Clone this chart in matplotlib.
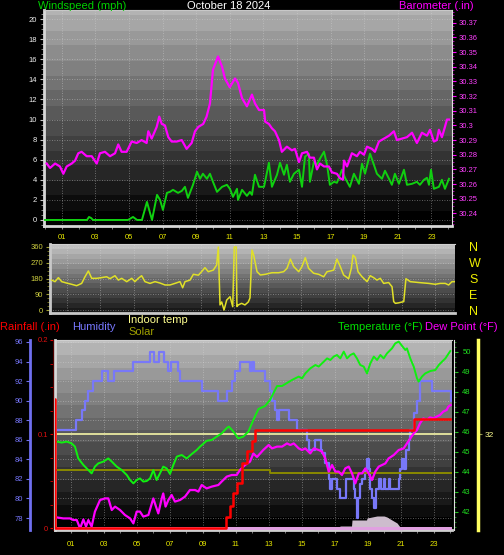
import matplotlib
matplotlib.use("Agg")
import matplotlib.pyplot as plt
import numpy as np
from matplotlib.ticker import MultipleLocator

plt.rcParams['font.family'] = ['Liberation Sans', 'DejaVu Sans']

# ---------------- data (hours after midnight) ----------------
# top panel: wind speed (mph) and barometer (in)
wind_hours = [0.0, 2.5, 2.62, 2.74, 2.86, 4.94, 5.24, 5.48, 5.77, 6.07, 6.37, 6.67, 6.85, 7.02, 7.26,
              7.44, 7.62, 7.92, 8.15, 8.33, 8.51, 8.81, 9.05, 9.23, 9.4, 9.64, 9.82, 10.0, 10.24,
              10.54, 10.83, 11.01, 11.19, 11.43, 11.49, 11.73, 12.02, 12.2, 12.32, 12.5, 12.74,
              13.04, 13.33, 13.51, 13.81, 13.99, 14.23, 14.4, 14.58, 14.82, 15.12, 15.3, 15.48,
              15.71, 15.77, 16.01, 16.19, 16.37, 16.61, 16.79, 16.96, 17.2, 17.38, 17.68, 17.86,
              18.15, 18.39, 18.69, 18.87, 19.05, 19.35, 19.58, 19.76, 20.06, 20.24, 20.48, 20.65,
              20.83, 21.07, 21.37, 21.55, 21.85, 22.14, 22.32, 22.56, 22.74, 22.86, 22.98, 23.15,
              23.45, 23.63, 23.81, 24.05]
wind_mph = [0, 0, 0.3, 0.2, 0, 0, 0.3, 0, 0, 1.8, 0, 2.5, 2.0, 1.0, 2.7,
            2.8, 3.0, 2.7, 2.9, 3.3, 2.2, 3.5, 4.8, 4.1, 4.6, 4.1, 4.6, 3.8, 2.8,
            3.3, 3.5, 3.1, 2.3, 3.1, 2.0, 3.0, 2.4, 2.8, 2.5, 4.5, 3.3,
            3.3, 5.7, 3.3, 4.5, 5.7, 4.5, 5.5, 3.8, 4.6, 5.0, 3.3, 6.3,
            6.6, 3.8, 5.8, 5.5, 6.1, 6.8, 5.5, 3.5, 3.8, 3.7, 5.0, 4.2,
            3.3, 4.6, 3.6, 5.6, 4.6, 6.6, 5.5, 4.6, 4.1, 4.9, 4.1, 3.5,
            4.6, 3.6, 5.0, 3.5, 3.6, 3.8, 3.5, 4.0, 4.2, 3.5, 5.0, 3.1,
            3.3, 4.0, 3.1, 4.1]

baro_hours = [0.1, 0.3, 0.6, 0.89, 1.09, 1.29, 1.59, 1.79, 1.98, 2.18, 2.48, 2.78, 3.08, 3.27,
              3.57, 3.87, 4.17, 4.36, 4.56, 4.86, 5.16, 5.46, 5.75, 6.05, 6.15, 6.35, 6.65, 6.8,
              6.95, 7.14, 7.34, 7.54, 7.84, 8.14, 8.43, 8.73, 8.93, 9.13, 9.42, 9.62, 9.82, 10.0,
              10.3, 10.54, 10.71, 11.0, 11.31, 11.49, 11.73, 12.02, 12.32, 12.5, 12.74, 13.04,
              13.11, 13.33, 13.51, 13.69, 13.93, 14.1, 14.4, 14.7, 14.88, 15.12, 15.3, 15.6,
              15.77, 16.01, 16.19, 16.37, 16.61, 16.9, 17.08, 17.38, 17.56, 17.74, 17.8, 17.98,
              18.27, 18.57, 18.75, 18.99, 19.17, 19.46, 19.64, 19.88, 20.18, 20.48, 20.77, 20.95,
              21.25, 21.55, 21.85, 22.14, 22.44, 22.74, 22.92, 23.15, 23.33, 23.45, 23.63, 23.81,
              23.93, 24.05]
baro_inhg = [30.274, 30.271, 30.274, 30.272, 30.267, 30.272, 30.274, 30.276, 30.281, 30.282, 30.279,
             30.279, 30.274, 30.281, 30.282, 30.279, 30.281, 30.287, 30.282, 30.282, 30.289, 30.288,
             30.290, 30.288, 30.296, 30.291, 30.299, 30.306, 30.301, 30.300, 30.292, 30.289, 30.289,
             30.290, 30.284, 30.288, 30.296, 30.299, 30.301, 30.306, 30.315, 30.338, 30.347, 30.340,
             30.332, 30.326, 30.332, 30.329, 30.3185, 30.313, 30.321, 30.315, 30.3105, 30.3105,
             30.3025, 30.301, 30.298, 30.296, 30.290, 30.282, 30.2855, 30.283, 30.284, 30.275,
             30.281, 30.282, 30.278, 30.278, 30.270, 30.274, 30.272, 30.272, 30.268, 30.267,
             30.264, 30.263, 30.276, 30.272, 30.281, 30.279, 30.282, 30.280, 30.2855, 30.284,
             30.282, 30.289, 30.291, 30.293, 30.296, 30.290, 30.291, 30.292, 30.295, 30.288,
             30.295, 30.293, 30.297, 30.289, 30.290, 30.297, 30.292, 30.299, 30.304, 30.304]

# middle panel: wind direction (degrees)
dir_hours = [0.1, 0.3, 0.5, 0.7, 0.99, 1.29, 1.59, 1.89, 2.09, 2.29, 2.49, 2.79, 3.08, 3.38, 3.58,
             3.88, 4.08, 4.28, 4.58, 4.88, 5.07, 5.27, 5.47, 5.67, 5.97, 6.27, 6.57, 6.87, 7.16,
             7.46, 7.76, 7.92, 8.06, 8.36, 8.56, 8.86, 9.05, 9.25, 9.45, 9.75, 9.95, 10.05, 10.15,
             10.25, 10.39, 10.55, 10.75, 10.91, 11.0, 11.12, 11.16, 11.24, 11.44, 11.64, 11.84,
             11.94, 12.06, 12.16, 12.36, 12.56, 12.86, 13.25, 13.65, 13.95, 14.15, 14.35, 14.55,
             14.85, 15.04, 15.24, 15.44, 15.74, 16.04, 16.34, 16.54, 16.74, 16.94, 17.13, 17.33,
             17.53, 17.83, 17.99, 18.09, 18.23, 18.39, 18.63, 18.93, 19.12, 19.32, 19.52, 19.72,
             19.92, 20.22, 20.42, 20.52, 20.62, 20.82, 21.12, 21.25, 21.51, 22.01, 22.61, 23.0,
             23.3, 23.6, 23.8, 24.0, 24.14]
dir_deg = [171, 162, 185, 162, 154, 147, 139, 152, 190, 223, 181, 181, 185, 190, 179,
           196, 171, 181, 162, 181, 162, 181, 196, 162, 152, 162, 154, 143, 143,
           152, 162, 127, 162, 171, 204, 199, 219, 242, 219, 228, 257, 360, 29,
           46, 0, 57, 76, 19, 360, 360, 20, 29, 38, 29, 46,
           69, 343, 314, 219, 200, 204, 213, 213, 219, 238, 291, 248,
           219, 248, 299, 238, 210, 204, 190, 219, 223, 228, 291, 248,
           200, 179, 238, 314, 300, 219, 190, 162, 196, 185, 171, 181,
           152, 157, 133, 48, 38, 41, 48, 179, 162, 157, 152, 147,
           152, 152, 143, 162, 162]

# bottom panel
hum_hours = [0.06, 1.33, 1.68, 1.88, 2.08, 2.38, 2.89, 3.27, 3.64, 4.81, 5.82, 6.06, 6.38, 6.67,
             6.89, 7.07, 7.53, 7.64, 8.95, 9.96, 10.5, 10.77, 10.97, 11.27, 11.88, 12.0, 12.12,
             12.79, 13.11, 13.21, 13.41, 13.52, 13.64, 14.22, 14.73, 15.33, 15.43, 15.84, 16.16,
             16.24, 16.44, 16.65, 16.75, 16.85, 17.15, 17.35, 17.7, 18.16, 18.26, 18.36, 18.45,
             18.55, 18.67, 18.87, 18.97, 19.09, 19.17, 19.27, 19.38, 19.52, 19.68, 19.82, 19.98,
             20.08, 20.28, 20.38, 20.89, 20.99, 21.09, 21.21, 21.33, 21.5, 21.59, 21.82, 21.98,
             22.18, 22.91, 24.0, 24.06]
hum_pct = [87, 88, 89, 90, 91, 92, 93, 92, 93, 94, 95, 94, 95, 94,
           93, 94, 93, 92, 91, 90, 91, 92, 93, 94, 93, 94, 93,
           92, 91, 90, 89, 88, 89, 88, 87, 86, 85, 86, 85,
           84.7, 83.6, 82, 81, 82, 81, 80, 82, 81, 80, 78, 80,
           81.5, 82, 83, 84, 83, 81, 80, 79, 81, 82, 81, 82,
           81, 82, 81, 82, 83, 84, 83, 85, 86, 87, 88.7, 90,
           92, 91, 91, 90]

temp_hours = [0.16, 0.47, 0.77, 1.07, 1.27, 1.47, 1.78, 2.08, 2.28, 2.48, 2.68, 2.99, 3.29, 3.5,
              3.8, 4.1, 4.41, 4.61, 4.81, 5.01, 5.21, 5.41, 5.62, 5.82, 6.02, 6.22, 6.42, 6.62,
              6.83, 7.03, 7.23, 7.44, 7.74, 8.04, 8.35, 8.65, 8.85, 9.25, 9.56, 9.86, 10.16,
              10.47, 10.6, 10.87, 11.17, 11.47, 11.78, 12.08, 12.39, 12.79, 13.09, 13.29, 13.52,
              13.82, 14.12, 14.42, 14.83, 15.03, 15.23, 15.53, 15.84, 16.04, 16.35, 16.55, 16.75,
              16.95, 17.15, 17.35, 17.56, 17.76, 17.96, 18.16, 18.36, 18.56, 18.77, 18.97, 19.17,
              19.38, 19.58, 19.78, 19.98, 20.18, 20.48, 20.68, 20.89, 21.05, 21.29, 21.39, 21.59,
              21.8, 22.0, 22.1, 22.3, 22.5, 22.81, 23.11, 23.32, 23.52, 23.72, 23.92, 24.02]
temp_f = [45.52, 45.47, 45.52, 45.43, 45.27, 44.68, 44.35, 44.1, 43.93, 44.27, 44.43, 44.52, 44.68, 44.52,
          44.27, 44.1, 43.85, 43.6, 43.43, 43.6, 43.68, 43.52, 43.55, 43.68, 44.1, 43.6, 43.93, 44.27,
          44.18, 43.9, 44.35, 44.77, 44.85, 44.68, 44.9, 45.1, 45.27, 45.56, 45.6, 45.77, 45.93,
          46.2, 46.27, 46.02, 45.68, 45.77, 46.02, 46.6, 47.15, 47.3, 47.6, 47.93, 48.3,
          48.3, 48.45, 48.6, 48.77, 48.68, 48.93, 49.18, 49.35, 49.27, 49.52, 49.68, 49.6,
          49.77, 49.85, 49.68, 50.02, 49.68, 49.85, 49.93, 49.68, 49.35, 49.27, 48.93, 49.43,
          49.77, 49.6, 49.85, 49.68, 49.93, 50.18, 50.43, 50.52, 50.35, 50.1, 50.18, 49.68,
          49.27, 48.68, 48.52, 48.77, 48.93, 49.05, 49.1, 49.35, 49.52, 49.68, 49.93, 50.05]

dew_hours = [0.16, 0.56, 0.97, 1.17, 1.38, 1.58, 1.78, 1.94, 2.08, 2.28, 2.48, 2.79, 3.09, 3.29,
             3.5, 3.7, 4.0, 4.3, 4.61, 4.81, 5.01, 5.21, 5.41, 5.72, 6.02, 6.18, 6.32, 6.53, 6.62,
             6.76, 6.93, 7.13, 7.33, 7.64, 7.94, 8.24, 8.55, 8.75, 8.95, 9.25, 9.56, 9.96, 10.16,
             10.47, 10.77, 11.07, 11.27, 11.58, 11.88, 12.08, 12.3, 12.68, 13.01, 13.21, 13.52,
             13.82, 14.12, 14.32, 14.53, 14.83, 15.03, 15.23, 15.53, 15.74, 16.04, 16.24, 16.44,
             16.65, 16.85, 17.05, 17.25, 17.45, 17.65, 17.86, 18.06, 18.26, 18.47, 18.67, 18.87,
             19.07, 19.27, 19.47, 19.68, 19.88, 20.08, 20.28, 20.59, 20.89, 21.19, 21.39, 21.59,
             21.8, 22.0, 22.18, 22.38, 22.59, 22.79, 22.99, 23.19, 23.39, 23.59, 23.8, 23.9, 24.04]
dew_f = [41.73, 41.68, 41.68, 41.6, 41.6, 41.18, 41.63, 41.27, 41.6, 41.27, 42.02, 42.6, 42.68, 42.68,
         42.1, 42.27, 42.1, 41.85, 41.68, 41.43, 42.02, 42.02, 41.77, 41.85, 42.68, 42.27, 41.93, 42.68, 42.93,
         42.27, 42.6, 42.85, 42.52, 42.6, 42.77, 43.1, 43.1, 43.02, 43.35, 43.18, 43.27, 43.35, 43.52,
         43.77, 43.85, 43.85, 44.1, 44.35, 44.52, 44.93, 44.75, 45.1, 45.35, 45.18, 45.27,
         45.27, 45.43, 45.35, 45.43, 45.18, 45.1, 45.18, 44.93, 45.18, 45.1, 45.02, 44.68,
         44.02, 44.35, 44.02, 44.02, 43.85, 44.18, 44.27, 43.93, 43.43, 43.93, 43.93, 44.18,
         43.93, 43.6, 44.02, 44.27, 44.35, 44.43, 44.68, 44.85, 45.1, 45.18, 45.43, 45.68,
         45.93, 46.1, 46.43, 46.68, 46.6, 46.73, 46.68, 46.77, 46.85, 47.02, 47.1, 47.27, 47.35]

rain_hours = [0.0, 0.08, 10.42, 10.67, 10.85, 11.09, 11.39, 11.7, 12.0, 12.18, 21.8, 24.0]
rain_in = [0.137, 0.0, 0.012, 0.024, 0.037, 0.048, 0.069, 0.082, 0.093, 0.104, 0.116, 0.116]

indoor_hours = [0.06, 24.12]
indoor_f = [32, 32]

solar_hours = [0.06, 13.1, 24.12]
solar_vals = [60, 57, 57]

rad_hours = [0.0, 15.75, 15.8, 16.05, 16.1, 17.3, 17.33, 18.03, 18.06, 18.94, 18.97, 19.27, 19.58,
             20.0, 20.18, 20.48, 20.79, 20.97, 21.15, 24.1]
rad_vals = [0, 0, 3, 3, 0, 0, 4, 4, 10, 10, 12, 13, 14, 14, 13, 10, 7, 3, 0, 0]
uv_hours = [0.06, 24.12]
uv_vals = [3, 3]

hour_ticks = list(range(1, 24, 2))
hour_labels = ["%02d" % h for h in hour_ticks]

# ---------------- figure ----------------
W, H = 504, 555
PT = 0.72  # pixels -> points at 100 dpi
fig = plt.figure(figsize=(W / 100, H / 100), dpi=100, facecolor="black")


def panel(left, top, right, bottom):
    # pixel box -> figure fraction
    return fig.add_axes([left / W, 1 - bottom / H, (right - left) / W, (bottom - top) / H])


def shade(ax, top, bottom, steps=20):
    g = np.linspace(top, bottom, 240)
    g = np.floor(g * steps) / steps
    ax.imshow(g[:, None], cmap="gray", vmin=0, vmax=1, aspect="auto",
              extent=[0, 1, 0, 1], transform=ax.transAxes, zorder=0,
              interpolation="nearest")


def only_spine(ax, keep):
    for name, sp in ax.spines.items():
        sp.set_visible(name in keep)


GRID = dict(color="#d8d8d8", ls=(0, (1, 2)), lw=0.6, alpha=0.55)

# ---- top: windspeed + barometer ----
ax1 = panel(44, 10, 452, 226)
ax1.set_facecolor("black")
shade(ax1, 0.72, 0.0)
ax1.plot(wind_hours, wind_mph, color="#10d010", lw=1.4, zorder=3)
ax1.set_xlim(-0.06, 24.23)
ax1.set_ylim(-0.6, 20.9)
ax1.set_xticks(hour_ticks)
ax1.set_xticklabels(hour_labels)
ax1.xaxis.set_minor_locator(MultipleLocator(1))
ax1.set_yticks(range(0, 21, 2))
ax1.yaxis.set_minor_locator(MultipleLocator(0.5))
ax1.tick_params(axis="x", which="both", colors="#909090", labelcolor="#e8e800",
                labelsize=5.5, length=2, pad=4)
ax1.tick_params(axis="y", which="major", colors="#c8c8c8", labelcolor="#f0f0f0",
                labelsize=5.5, length=3, pad=2)
ax1.tick_params(axis="y", which="minor", colors="#a0a0a0", length=2)
ax1.grid(True, **GRID)
only_spine(ax1, ["left", "bottom", "top"])
for s in ["left", "bottom"]:
    ax1.spines[s].set_color("#d8d8d8")
    ax1.spines[s].set_linewidth(2)
ax1.spines["top"].set_color("#c8c8c8")

ax1b = ax1.twinx()
ax1b.plot(baro_hours, baro_inhg, color="#ff00ff", lw=1.6, zorder=3)
ax1b.set_ylim(30.2314, 30.3787)
bt = np.round(np.arange(30.24, 30.371, 0.01), 2)
ax1b.set_yticks(bt)
ax1b.set_yticklabels([("%.2f" % v).rstrip("0") for v in bt])
ax1b.yaxis.set_minor_locator(MultipleLocator(0.0025))
ax1b.tick_params(axis="y", which="major", colors="#ff00ff", labelcolor="#ff40ff",
                 labelsize=5.5, length=3, pad=2)
ax1b.tick_params(axis="y", which="minor", colors="#c000c0", length=1.5)
only_spine(ax1b, ["right"])
ax1b.spines["right"].set_color("#e0e0e0")

fig.text(38 / W, 1 - 6 / H, "Windspeed (mph)", color="#00d000", fontsize=8, va="center")
fig.text(187 / W, 1 - 6 / H, "October 18 2024", color="white", fontsize=8, va="center")
fig.text(399 / W, 1 - 6 / H, "Barometer (.in)", color="#ff00ff", fontsize=8, va="center")

# ---- middle: wind direction ----
ax2 = panel(50, 244, 455, 313)
shade(ax2, 0.80, 0.10)
ax2.plot(dir_hours, dir_deg, color="#e0e028", lw=1.1, zorder=3)
ax2.set_xlim(0, 24.18)
ax2.set_ylim(-17.1, 377.1)
ax2.set_yticks(range(0, 361, 90))
ax2.yaxis.set_minor_locator(MultipleLocator(22.5))
ax2.set_xticks(hour_ticks)
ax2.tick_params(axis="x", bottom=False, labelbottom=False)
ax2.tick_params(axis="y", which="major", colors="#a0a030", labelcolor="#d0d040",
                labelsize=5.5, length=3, pad=2)
ax2.tick_params(axis="y", which="minor", colors="#808020", length=2)
ax2.grid(True, **GRID)
only_spine(ax2, ["left", "bottom", "top"])
for s in ["left", "bottom"]:
    ax2.spines[s].set_color("#c8c8c8")
    ax2.spines[s].set_linewidth(2)
ax2.spines["top"].set_color("#d0d0d0")

ax2c = ax2.twinx()
ax2c.set_ylim(ax2.get_ylim())
ax2c.set_yticks(range(0, 361, 90))
ax2c.set_yticklabels(["N", "E", "S", "W", "N"])
ax2c.tick_params(axis="y", length=0, pad=14 * PT, labelsize=9, labelcolor="#f0f000")
only_spine(ax2c, [])

# ---- bottom: rain, humidity, temperature, dew point ----
ax3 = panel(55, 340, 452, 530)
shade(ax3, 0.76, 0.0)
ax3.plot(hum_hours, hum_pct, color="#7878f8", lw=1.6, drawstyle="steps-post", zorder=3)
ax3.set_xlim(0.06, 24.12)
ax3.set_ylim(76.78, 96.2)
ax3.set_yticks(range(78, 97, 2))
ax3.set_xticks(hour_ticks)
ax3.set_xticklabels(hour_labels)
ax3.xaxis.set_minor_locator(MultipleLocator(1))
ax3.tick_params(axis="x", which="both", colors="#909090", labelcolor="#e8e800",
                labelsize=5.5, length=2, pad=6)
ax3.tick_params(axis="y", colors="#7070f0", labelcolor="#7878ff", labelsize=5.5, length=3, pad=2)
ax3.grid(True, **GRID)
only_spine(ax3, ["left", "bottom", "top"])
ax3.spines["left"].set_position(("outward", 25 * PT))
ax3.spines["left"].set_color("#7070f0")
ax3.spines["left"].set_linewidth(2)
ax3.spines["bottom"].set_color("#d0d0d0")
ax3.spines["bottom"].set_linewidth(2)
ax3.spines["top"].set_color("#d0d0d0")
ax3.axvline(ax3.get_xlim()[0], color="#d8d8d8", lw=2, zorder=4, clip_on=False)

ax3s = ax3.twinx()
ax3s.set_ylim(0, 190)
ax3s.fill_between(rad_hours, 0, rad_vals, color="#cdbccd", lw=0, zorder=2)
ax3s.fill_between(uv_hours, 0, uv_vals, color="#e0a0e0", lw=0, zorder=2)
ax3s.plot(solar_hours, solar_vals, color="#8a8a00", lw=1.4, drawstyle="steps-post", zorder=3)
ax3s.set_yticks([])
only_spine(ax3s, [])

ax3i = ax3.twinx()
ax3i.plot(indoor_hours, indoor_f, color="#e8e8a0", lw=1.3, zorder=3)
ax3i.set_ylim(27.2, 36.7)
ax3i.set_yticks([32])
ax3i.tick_params(axis="y", colors="#909050", labelcolor="#ffff90", labelsize=6, length=3, pad=2)
only_spine(ax3i, ["right"])
ax3i.spines["right"].set_position(("outward", 26 * PT))
ax3i.spines["right"].set_color("#ffff60")
ax3i.spines["right"].set_linewidth(2.5)

ax3t = ax3.twinx()
ax3t.plot(temp_hours, temp_f, color="#10f010", lw=1.4, zorder=3)
ax3t.plot(dew_hours, dew_f, color="#ff00ff", lw=1.6, zorder=3)
ax3t.set_ylim(41.1, 50.6)
ax3t.set_yticks(range(42, 51))
ax3t.yaxis.set_minor_locator(MultipleLocator(0.25))
ax3t.tick_params(axis="y", which="major", colors="#20c020", labelcolor="#20e020",
                 labelsize=5.5, length=3, pad=3)
ax3t.tick_params(axis="y", which="minor", colors="#20a020", length=1.5)
only_spine(ax3t, ["right"])
ax3t.spines["right"].set_position(("outward", 2 * PT))
ax3t.spines["right"].set_color("#e0e0e0")

ax3r = ax3.twinx()
ax3r.plot(rain_hours, rain_in, color="#ff0000", lw=1.8, drawstyle="steps-post", zorder=3)
ax3r.set_ylim(-0.002, 0.2)
ax3r.yaxis.set_ticks_position("left")
ax3r.yaxis.set_label_position("left")
ax3r.set_yticks([0, 0.1, 0.2])
ax3r.set_yticklabels(["0", "0.1", "0.2"])
ax3r.yaxis.set_minor_locator(MultipleLocator(0.025))
ax3r.tick_params(axis="y", which="both", colors="#e00000", labelcolor="#e01010",
                 labelsize=5.5, length=2.5, pad=1)
only_spine(ax3r, ["left"])
ax3r.spines["left"].set_position(("outward", 2 * PT))
ax3r.spines["left"].set_color("#500000")

fig.text(0, 1 - 327 / H, "Rainfall (.in)", color="#ff0000", fontsize=8, va="center")
fig.text(72 / W, 1 - 327 / H, "Humidity", color="#7878ff", fontsize=8, va="center")
fig.text(128 / W, 1 - 320 / H, "Indoor temp", color="#ffff90", fontsize=8, va="center")
fig.text(128 / W, 1 - 332 / H, "Solar", color="#a0a000", fontsize=8, va="center")
fig.text(338 / W, 1 - 327 / H, "Temperature (°F)", color="#00e000", fontsize=8, va="center")
fig.text(425 / W, 1 - 327 / H, "Dew Point (°F)", color="#ff00ff", fontsize=8, va="center")

fig.savefig("out.png", dpi=100, facecolor="black")
